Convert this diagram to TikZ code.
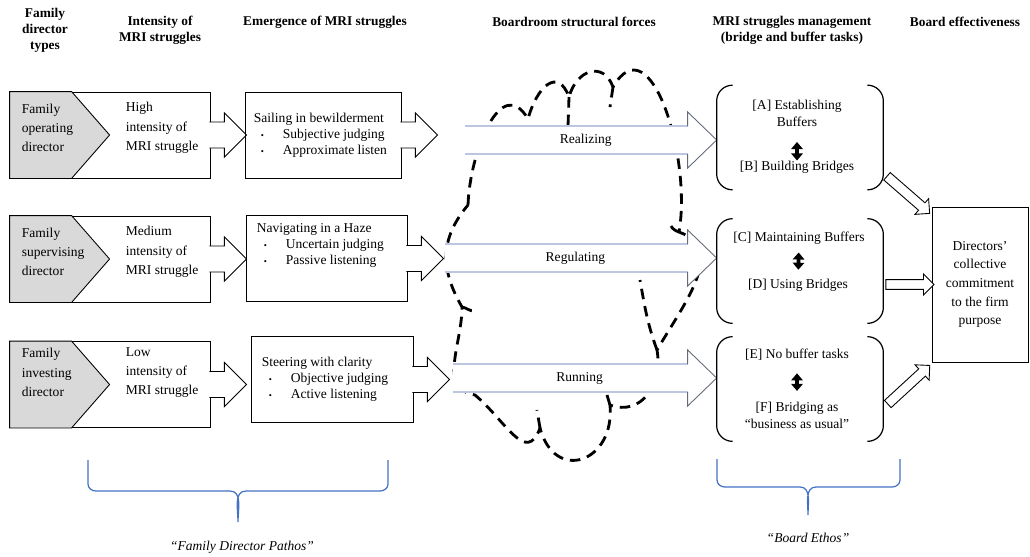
\documentclass[tikz,border=0pt]{standalone}
\usepackage{fontspec}
\setmainfont{Liberation Serif}
\usepackage{tikz}
\usetikzlibrary{positioning, arrows.meta, calc, shapes.arrows}
\definecolor{chevgray}{RGB}{217,217,217}
\definecolor{braceblue}{RGB}{68,114,196}
\definecolor{shaftedge}{RGB}{188,198,222}
\definecolor{headedge}{RGB}{100,106,120}
\tikzset{
  hdr/.style={align=center, inner sep=0pt, font=\fontsize{7.6}{9}\selectfont\bfseries},
  bodytxt/.style={align=left, inner sep=0pt, font=\fontsize{7.7}{11}\selectfont},
  listtxt/.style={align=left, inner sep=0pt, font=\fontsize{7.7}{9.1}\selectfont},
  tasktxt/.style={align=center, inner sep=0pt, font=\fontsize{7.7}{9.6}\selectfont},
  typebox/.style={rectangle, draw, line width=0.5pt, minimum width=4cm, minimum height=1.72cm, inner sep=0pt},
  emergebox/.style={rectangle, draw, line width=0.5pt, minimum height=1.72cm, inner sep=0pt},
  taskbox/.style={rectangle, minimum width=3.32cm, minimum height=2.08cm, inner sep=0pt},
  effbox/.style={rectangle, draw, line width=0.5pt, minimum width=1.92cm, minimum height=3.1cm,
    align=center, inner sep=0pt, font=\fontsize{7.7}{10.6}\selectfont},
  cloudline/.style={line width=1.6pt, dash pattern=on 6pt off 4pt},
  shaftline/.style={draw=shaftedge, line width=0.6pt},
  headline/.style={draw=headedge, line width=0.5pt},
  twoway/.style={line width=2.2pt, {Triangle[width=6.5pt,length=4pt]}-{Triangle[width=6.5pt,length=4pt]}},
  hollow/.style={single arrow, draw, fill=white, line width=0.5pt, inner xsep=0pt, inner ysep=2.55pt,
    single arrow head extend=0.11cm},
  bracebar/.style={draw=braceblue, line width=0.7pt},
  ethos/.style={inner sep=0pt, font=\fontsize{7.7}{9}\selectfont\itshape},
}
% small bullet for the list items
\newcommand{\bitem}{\hspace*{4pt}\makebox[12.5pt][l]{\tiny\textbullet}}
% gray chevron at the left of a type box
\newcommand{\chevron}[1]{%
  \draw[line width=0.5pt, fill=chevgray] (#1.north west) -- ++(62,0) -- ($(#1.west)+(100,0)$)
    -- ($(#1.south west)+(62,0)$) -- (#1.south west) -- cycle;}
% block arrow sticking out of a box
\newcommand{\tailarrow}[1]{%
  \draw[line width=0.5pt, fill=white] ($(#1.east)+(-1,-13)$) -- ++(15,0) -- ++(0,-9) -- ++(22,22)
    -- ++(-22,22) -- ++(0,-9) -- ++(-15,0);}
% left and right brackets of a task box
\newcommand{\brackets}[1]{%
  \draw[line width=0.7pt, rounded corners=9pt] ($(#1.north west)+(16,0)$) -- (#1.north west)
    -- (#1.south west) -- ++(16,0);
  \draw[line width=0.7pt, rounded corners=9pt] ($(#1.north east)+(-16,0)$) -- (#1.north east)
    -- (#1.south east) -- ++(-16,0);}
% wide arrow through the cloud
\newcommand{\forcearrow}[4]{%
  \coordinate (#4tip) at (#2.west |- #1);
  \coordinate (#4base) at ($(#4tip)+(-29,0)$);
  \fill[white] ($(#1)+(0,-14)$) -- ($(#4base)+(0,-14)$) -- ($(#4base)+(0,-28)$) -- (#4tip)
    -- ($(#4base)+(0,28)$) -- ($(#4base)+(0,14)$) -- ($(#1)+(0,14)$) -- cycle;
  \draw[shaftline] ($(#1)+(0,-14)$) -- ($(#4base)+(0,-14)$) ($(#1)+(0,14)$) -- ($(#4base)+(0,14)$);
  \draw[headline] ($(#4base)+(0,-14)$) -- ($(#4base)+(0,-28)$) -- (#4tip) -- ($(#4base)+(0,28)$)
    -- ($(#4base)+(0,14)$);
  \node[bodytxt] (#4) at ($(#1)!0.48!(#4tip)$) {#3};}

\begin{document}
\begin{tikzpicture}[x=0.02cm, y=-0.02cm]
  \useasboundingbox (0,0) rectangle (1030,556);

  % column heads
  \node[hdr] (hdType) at (45,30) {Family\\director\\types};
  \node[hdr] (hdLevel) at (160,30) {Intensity of\\MRI struggles};
  \node[hdr] (hdEmerge) at (325,22) {Emergence of MRI struggles};
  \node[hdr] (hdForce) at (574,22) {Boardroom structural forces};
  \node[hdr] (hdTask) at (792,30) {MRI struggles management\\(bridge and buffer tasks)};
  \node[hdr] (hdEff) at (965,22) {Board effectiveness};

  % director types and intensity
  \node[typebox] (type1) at (110,135) {};
  \node[typebox] (type2) at (110,259) {};
  \node[typebox] (type3) at (110,384.5) {};
  \foreach \bx in {type1,type2,type3} {\chevron{\bx} \tailarrow{\bx}}
  \node[bodytxt, anchor=west] (who1) at ($(type1.west)+(12,-7)$) {Family\\operating\\director};
  \node[bodytxt, anchor=west] (lvl1) at ($(type1.west)+(116,-7)$) {High\\intensity of\\MRI struggle};
  \node[bodytxt, anchor=west] (who2) at ($(type2.west)+(12,-7)$) {Family\\supervising\\director};
  \node[bodytxt, anchor=west] (lvl2) at ($(type2.west)+(116,-7)$) {Medium\\intensity of\\MRI struggle};
  \node[bodytxt, anchor=west] (who3) at ($(type3.west)+(12,-12)$) {Family\\investing\\director};
  \node[bodytxt, anchor=west] (lvl3) at ($(type3.west)+(116,-12)$) {Low\\intensity of\\MRI struggle};

  % emergence
  \node[emergebox, minimum width=3.12cm] (emg1) at (323,135) {};
  \node[emergebox, minimum width=3.22cm] (emg2) at (326.5,258.5) {};
  \node[emergebox, minimum width=3.24cm] (emg3) at (332,379.5) {};
  \foreach \bx in {emg1,emg2,emg3} {\tailarrow{\bx}}
  \node[listtxt, anchor=west] (sail) at ($(emg1.west)+(9,0)$)
    {Sailing in bewilderment\\\bitem Subjective judging\\\bitem Approximate listen};
  \node[listtxt, anchor=west] (haze) at ($(emg2.west)+(11,-13)$)
    {Navigating in a Haze\\\bitem Uncertain judging\\\bitem Passive listening};
  \node[listtxt, anchor=west] (steer) at ($(emg3.west)+(11,0)$)
    {Steering with clarity\\\bitem Objective judging\\\bitem Active listening};

  % task boxes
  \node[taskbox] (task1) at (800,137.5) {};
  \node[taskbox] (task2) at (800,271) {};
  \node[taskbox] (task3) at (800,389) {};

  % cloud of boardroom forces
  \draw[cloudline] (468,205) to[out=88,in=120,looseness=1.3] (528,119)
    to[out=75,in=110,looseness=1.8] (569,97)
    to[out=75,in=110,looseness=1.6] (613,87)
    to[out=60,in=80,looseness=1.2] (679,232)
    to[out=-20,in=60,looseness=1.1] (657,350)
    to[out=-80,in=-20,looseness=1.2] (610,405)
    to[out=-85,in=-75,looseness=2] (540,428)
    to[out=-110,in=-40,looseness=1.4] (475,395)
    to[out=170,in=-90,looseness=1.1] (462,307)
    to[out=120,in=-130,looseness=1.1] cycle;
  \draw[cloudline] (569,97) -- (568,126);
  \draw[cloudline] (613,87) -- (610,107);
  \draw[cloudline] (679,232) to[out=160,in=-60] (671,226);
  \draw[cloudline] (657,350) to[out=110,in=-80] (640,280);
  \draw[cloudline] (462,307) to[out=-10,in=180] (474,311);
  \draw[cloudline] (540,428) -- (537,410);
  \draw[cloudline] (610,405) -- (607,395);

  \coordinate (fz1) at (465,140);
  \coordinate (fz2) at (445,258);
  \coordinate (fz3) at (453,378);
  \forcearrow{fz1}{task1}{Realizing}{realize}
  \forcearrow{fz2}{task2}{Regulating}{regulate}
  \forcearrow{fz3}{task3}{Running}{run}

  % bridge and buffer tasks
  \foreach \bx in {task1,task2,task3} {\brackets{\bx}}
  \node[tasktxt] (bufA) at (797,113.5) {[A] Establishing\\Buffers};
  \node[tasktxt] (brgB) at (797,167) {[B] Building Bridges};
  \node[tasktxt] (bufC) at (799,238) {[C] Maintaining Buffers};
  \node[tasktxt] (brgD) at (798,285) {[D] Using Bridges};
  \node[tasktxt] (bufE) at (797,355) {[E] No buffer tasks};
  \node[tasktxt] (brgF) at (797,415) {[F] Bridging as\\“business as usual”};
  \draw[twoway, shorten <=8.5pt] (bufA) -- (brgB);
  \draw[twoway, shorten <=4.5pt, shorten >=5pt] (bufC) -- (brgD);
  \draw[twoway, shorten <=7pt, shorten >=6pt] (bufE) -- (brgF);

  % effectiveness
  \node[effbox] (eff) at (980,284.5) {Directors’\\collective\\commitment\\to the firm\\purpose};
  \path ($(task1.south east)+(2,-15)$) -- node[hollow, sloped, minimum height=1.13cm] (toEff1) {}
    ($(eff.north west)+(-4,5)$);
  \path (task2.east |- eff.west) -- node[hollow, sloped, minimum height=0.96cm] (toEff2) {} (eff.west);
  \path ($(task3.south east)+(3,-36)$) -- node[hollow, sloped, minimum height=1.14cm] (toEff3) {}
    ($(eff.south west)+(-4,5)$);

  % braces
  \draw[bracebar] (88,460) -- (88,484) to[out=-90,in=180] (96,491) -- (230,491)
    to[out=0,in=90] (238,522) to[out=90,in=180] (246,491) -- (380,491)
    to[out=0,in=-90] (388,484) -- (388,460);
  \draw[bracebar] (717,459) -- (717,480) to[out=-90,in=180] (725,487) -- (800,487)
    to[out=0,in=90] (808,515) to[out=90,in=180] (816,487) -- (892,487)
    to[out=0,in=-90] (900,480) -- (900,459);
  \node[ethos] (pathos) at (242,547) {“Family Director Pathos”};
  \node[ethos] (ethos) at (808,538) {“Board Ethos”};
\end{tikzpicture}
\end{document}
